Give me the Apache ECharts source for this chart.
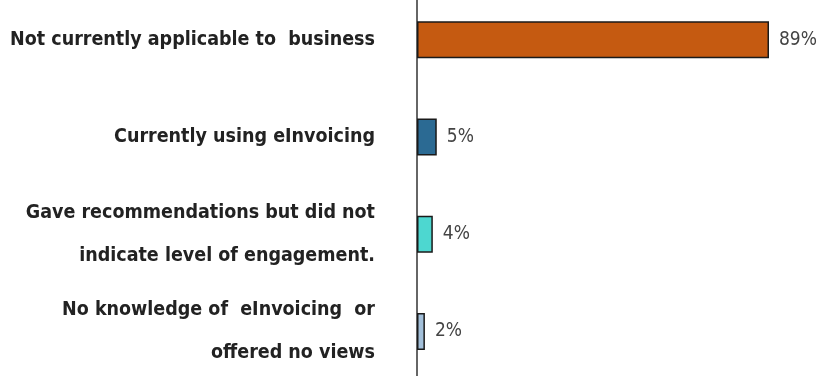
<!DOCTYPE html>
<html>
<head>
<meta charset="utf-8">
<script src="https://cdn.jsdelivr.net/npm/echarts@6/dist/echarts.min.js"></script>
<style>
  html, body { margin: 0; padding: 0; background: #fff; }
  #chart { width: 823px; height: 376px; }
</style>
</head>
<body>
<div id="chart"></div>
<script>
var categories = [
  'Not currently applicable to  business',
  'Currently using eInvoicing',
  'Gave recommendations but did not\nindicate level of engagement.',
  'No knowledge of  eInvoicing  or\noffered no views'
];
var values = [89, 5, 4, 2];
var barColors = ['#C55A11', '#2B6A93', '#4DD7D0', '#A3C0DA'];

var chart = echarts.init(document.getElementById('chart'));

var option = {
  animation: false,
  grid: { left: 417, right: 54, top: -9, height: 389, containLabel: false, outerBoundsMode: 'none' },
  xAxis: {
    type: 'value',
    min: 0,
    max: 89,
    show: false
  },
  yAxis: {
    type: 'category',
    inverse: true,
    data: categories,
    axisLine: { show: true, lineStyle: { color: '#333', width: 1.5 } },
    axisTick: { show: false },
    axisLabel: {
      margin: 42,
      fontFamily: '"Liberation Sans Narrow", "DejaVu Sans Condensed", sans-serif',
      fontWeight: 'bold',
      fontSize: 19.5,
      lineHeight: 43,
      color: '#222',
      align: 'right'
    }
  },
  series: [{
    type: 'bar',
    barWidth: 37,
    data: values.map(function (v, i) {
      return { value: v, itemStyle: { color: barColors[i] } };
    }),
    itemStyle: { borderColor: '#1a1a1a', borderWidth: 1.5 },
    label: {
      show: true,
      position: 'right',
      distance: 10,
      formatter: '{c}%',
      fontFamily: '"Liberation Sans Narrow", "DejaVu Sans Condensed", sans-serif',
      fontSize: 19,
      color: '#444'
    }
  }]
};

chart.setOption(option);
</script>
</body>
</html>
